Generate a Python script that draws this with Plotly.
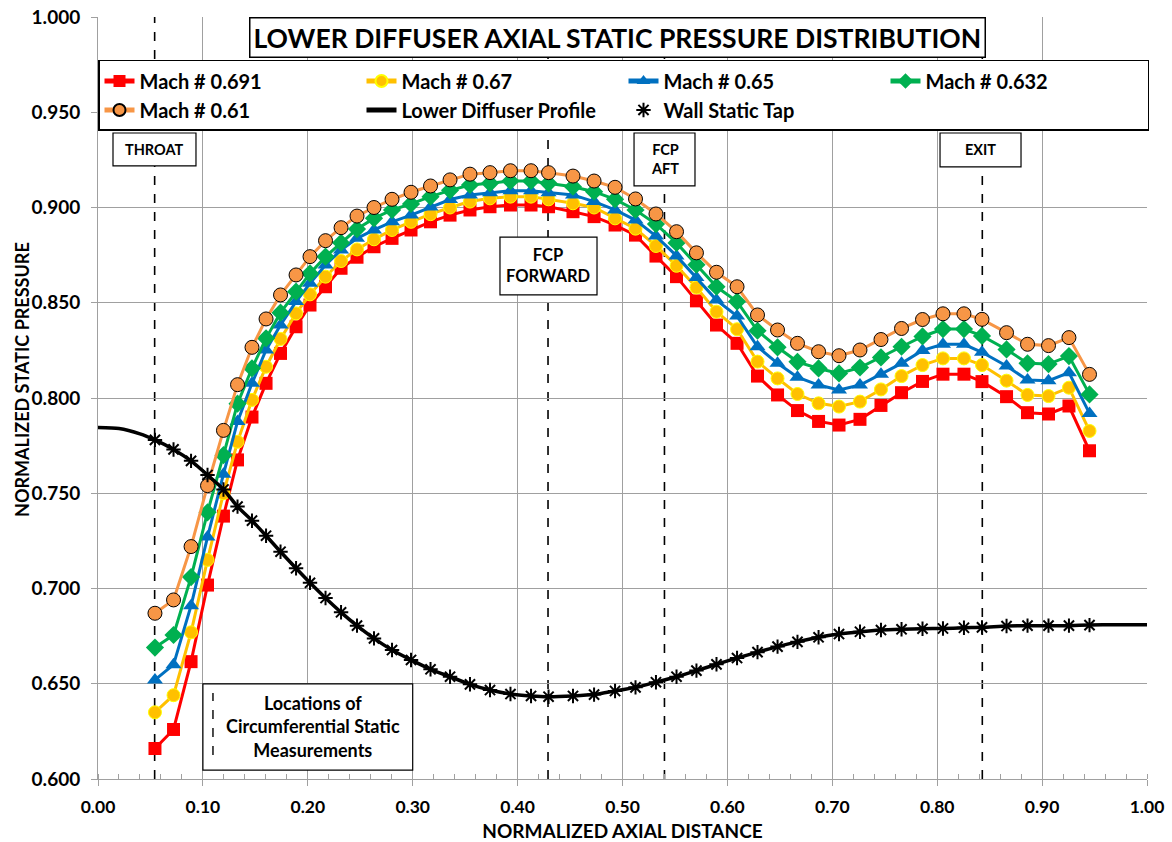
import plotly.graph_objects as go

# ---------------- data ----------------
x_pos = [0.0543, 0.0720, 0.0887, 0.1044, 0.1196, 0.1330, 0.1468, 0.1602, 0.1740, 0.1888,
         0.2021, 0.2169, 0.2317, 0.2469, 0.2631, 0.2803, 0.2984, 0.3170, 0.3356, 0.3546,
         0.3737, 0.3932, 0.4128, 0.4295, 0.4528, 0.4729, 0.4929, 0.5124, 0.5319, 0.5515,
         0.5705, 0.5896, 0.6092, 0.6287, 0.6478, 0.6668, 0.6869, 0.7064, 0.7264, 0.7464,
         0.7660, 0.7860, 0.8055, 0.8255, 0.8427, 0.8661, 0.8861, 0.9061, 0.9256, 0.9452]

mach_0691 = [0.616, 0.626, 0.6616, 0.7018, 0.738, 0.7675, 0.790, 0.8077, 0.8234, 0.8374,
             0.8488, 0.8584, 0.8681, 0.8739, 0.8794, 0.8838, 0.8882, 0.8925, 0.896, 0.8987,
             0.9004, 0.9013, 0.9013, 0.9004, 0.8978, 0.8952, 0.8908, 0.8855, 0.8745, 0.8637,
             0.851, 0.8383, 0.8287, 0.8115, 0.8016, 0.7934, 0.7877, 0.7858, 0.7888, 0.7961,
             0.8028, 0.8087, 0.8125, 0.8125, 0.8086, 0.8007, 0.7923, 0.7916, 0.7958, 0.7723]

mach_067 = [0.635, 0.644, 0.677, 0.715, 0.750, 0.777, 0.799, 0.8164, 0.831, 0.8444,
            0.8544, 0.8637, 0.8719, 0.878, 0.8833, 0.8882, 0.8925, 0.8965, 0.900, 0.9031,
            0.9048, 0.9057, 0.9057, 0.9043, 0.9022, 0.900, 0.8943, 0.8889, 0.8798, 0.8694,
            0.858, 0.8453, 0.8361, 0.8191, 0.8103, 0.8021, 0.7972, 0.7955, 0.7981, 0.8045,
            0.8115, 0.8173, 0.8208, 0.8208, 0.8173, 0.8091, 0.8016, 0.801, 0.8054, 0.7827]

mach_065 = [0.652, 0.660, 0.691, 0.727, 0.760, 0.7876, 0.8077, 0.8252, 0.8383, 0.8506,
            0.8602, 0.8698, 0.8777, 0.8838, 0.8882, 0.8925, 0.896, 0.9003, 0.9042, 0.9066,
            0.9078, 0.9088, 0.9088, 0.9078, 0.9066, 0.9031, 0.8987, 0.8934, 0.885, 0.8746,
            0.8632, 0.8514, 0.843, 0.8269, 0.8182, 0.8109, 0.8068, 0.8042, 0.8068, 0.8125,
            0.8182, 0.825, 0.8282, 0.8282, 0.824, 0.8168, 0.8094, 0.8091, 0.8133, 0.7919]

mach_0632 = [0.669, 0.6756, 0.706, 0.740, 0.770, 0.797, 0.8156, 0.8313, 0.8448, 0.8558,
             0.8654, 0.8742, 0.8815, 0.8887, 0.8943, 0.8987, 0.9019, 0.9057, 0.909, 0.9118,
             0.9127, 0.9139, 0.9139, 0.9127, 0.9109, 0.9083, 0.9043, 0.8987, 0.8913, 0.8814,
             0.870, 0.8584, 0.8506, 0.8353, 0.8266, 0.819, 0.8155, 0.8129, 0.816, 0.8213,
             0.8269, 0.8323, 0.8362, 0.8362, 0.8326, 0.8255, 0.8182, 0.8178, 0.822, 0.8019]

mach_061 = [0.687, 0.694, 0.722, 0.754, 0.783, 0.807, 0.8266, 0.8415, 0.8541, 0.8646,
            0.8742, 0.8826, 0.8894, 0.8955, 0.900, 0.9043, 0.908, 0.9113, 0.9145, 0.9175,
            0.9183, 0.9193, 0.9193, 0.9183, 0.9165, 0.9139, 0.9106, 0.9045, 0.8966, 0.8873,
            0.8762, 0.866, 0.8584, 0.8436, 0.8357, 0.8287, 0.8243, 0.8222, 0.8252, 0.8307,
            0.8365, 0.8412, 0.8442, 0.8442, 0.8413, 0.8343, 0.8282, 0.8275, 0.8317, 0.8124]

wall_tap = [0.778, 0.773, 0.767, 0.7596, 0.752, 0.743, 0.7356, 0.7277, 0.7193, 0.7106,
            0.703, 0.695, 0.6875, 0.6805, 0.6738, 0.6677, 0.6625, 0.6576, 0.6537, 0.6497,
            0.6467, 0.6446, 0.6436, 0.6432, 0.6436, 0.6443, 0.6462, 0.6481, 0.6508, 0.6537,
            0.6569, 0.6602, 0.6635, 0.6666, 0.6695, 0.672, 0.6744, 0.6761, 0.6773, 0.6782,
            0.6786, 0.6789, 0.679, 0.6794, 0.6796, 0.6803, 0.6805, 0.6805, 0.6805, 0.6808]

# profile end portions (outside the tap range)
profile_start_x = [0.0, 0.02, 0.04]
profile_start_y = [0.7845, 0.784, 0.7812]
profile_end_x = [0.97, 1.0]
profile_end_y = [0.681, 0.681]

station_x = [0.054, 0.429, 0.540, 0.843]
station_labels = ["THROAT", "FCP<br>FORWARD", "FCP<br>AFT", "EXIT"]
station_font = [14.5, 16.5, 14.5, 14.5]
# label boxes (axis units): x0, x1, y0, y1
station_boxes = [
    (0.0143, 0.0934, 0.9218, 0.9391),
    (0.3832, 0.4757, 0.8541, 0.8845),
    (0.5110, 0.5691, 0.9113, 0.9391),
    (0.8027, 0.8799, 0.9213, 0.9391),
]

series_names = ["Mach # 0.691", "Mach # 0.67", "Mach # 0.65", "Mach # 0.632", "Mach # 0.61"]
title_text = "LOWER DIFFUSER AXIAL STATIC PRESSURE DISTRIBUTION"

FONT = "Lato"

fig = go.Figure()

styles = [
    dict(color="#FF0000", symbol="square", size=13, lc="#FF0000", lw=0),
    dict(color="#FFC000", symbol="circle", size=13, lc="#FFFF00", lw=1),
    dict(color="#0070C0", symbol="triangle-up", size=14, lc="#0070C0", lw=0),
    dict(color="#00B050", symbol="diamond", size=14, lc="#00B050", lw=0),
    dict(color="#F79646", symbol="circle", size=14, lc="#000000", lw=1),
]
series_vals = [mach_0691, mach_067, mach_065, mach_0632, mach_061]

for name, vals, st in zip(series_names, series_vals, styles):
    fig.add_trace(go.Scatter(
        x=x_pos, y=vals, name=name, mode="lines+markers",
        line=dict(color=st["color"], width=3),
        marker=dict(symbol=st["symbol"], size=st["size"], color=st["color"],
                    line=dict(color=st["lc"], width=st["lw"])),
    ))

profile_x = profile_start_x + x_pos + profile_end_x
profile_y = profile_start_y + wall_tap + profile_end_y
fig.add_trace(go.Scatter(
    x=profile_x, y=profile_y, name="Lower Diffuser Profile", mode="lines",
    line=dict(color="black", width=3.5, shape="spline", smoothing=0.6),
))
fig.add_trace(go.Scatter(
    x=x_pos, y=wall_tap, name="Wall Static Tap", mode="markers",
    marker=dict(symbol="asterisk-open", size=12, color="black",
                line=dict(color="black", width=2)),
))

shapes = []
for sx in station_x:
    shapes.append(dict(type="line", xref="x", yref="paper", x0=sx, x1=sx, y0=0, y1=1,
                       line=dict(color="black", width=1.6, dash="dash"), layer="between"))
for (bx0, bx1, by0, by1) in station_boxes:
    shapes.append(dict(type="rect", xref="x", yref="y", x0=bx0, x1=bx1, y0=by0, y1=by1,
                       line=dict(color="black", width=1.2), fillcolor="white", layer="above"))
# note box for circumferential measurements
shapes.append(dict(type="rect", xref="x", yref="y", x0=0.10, x1=0.30, y0=0.6047, y1=0.6499,
                   line=dict(color="black", width=1.2), fillcolor="white", layer="above"))
shapes.append(dict(type="line", xref="x", yref="y", x0=0.1096, x1=0.1096, y0=0.6126, y1=0.6451,
                   line=dict(color="black", width=1.4, dash="dash"), layer="above"))

annotations = []
annotations.append(dict(
    text=title_text, xref="paper", yref="paper", x=0.4955, y=1.0, xanchor="center", yanchor="top",
    showarrow=False, font=dict(family=FONT, size=26.5, color="black", weight="bold"),
    bgcolor="white", bordercolor="black", borderwidth=1.5, borderpad=3))
for lab, fs, (bx0, bx1, by0, by1) in zip(station_labels, station_font, station_boxes):
    annotations.append(dict(
        text=lab, xref="x", yref="y", x=(bx0 + bx1) / 2, y=(by0 + by1) / 2,
        xanchor="center", yanchor="middle", showarrow=False,
        font=dict(family=FONT, size=fs, color="black", weight="bold")))
annotations.append(dict(
    text="Locations of<br>Circumferential Static<br>Measurements", xref="x", yref="y",
    x=0.2045, y=0.6273, xanchor="center", yanchor="middle", showarrow=False,
    font=dict(family=FONT, size=18, color="black", weight="bold")))
annotations.append(dict(
    text="NORMALIZED STATIC PRESSURE", xref="paper", yref="paper", x=-0.0725, y=0.525,
    xanchor="center", yanchor="middle", textangle=-90, showarrow=False,
    font=dict(family=FONT, size=18, color="black", weight="bold")))

fig.update_layout(
    width=1172, height=842,
    margin=dict(l=98, r=25, t=17, b=63),
    paper_bgcolor="white", plot_bgcolor="white",
    font=dict(family=FONT, color="black"),
    showlegend=True,
    legend=dict(
        orientation="h", x=0, y=0.9436, xanchor="left", yanchor="top",
        bgcolor="white", bordercolor="black", borderwidth=1.5,
        font=dict(family=FONT, size=20, color="black", weight="bold"),
        entrywidth=217, entrywidthmode="pixels", itemsizing="constant",
        tracegroupgap=0,
    ),
    shapes=shapes,
    annotations=annotations,
)

fig.update_xaxes(
    range=[0, 1], dtick=0.1, tick0=0, tickformat=".2f", automargin=False,
    showgrid=True, gridcolor="#A0A0A0", gridwidth=1,
    showline=True, linecolor="#A0A0A0", linewidth=1,
    ticks="outside", ticklen=6, tickcolor="#A0A0A0",
    minor=dict(ticks="inside", ticklen=5, dtick=0.02, tickcolor="#A0A0A0", showgrid=False),
    tickfont=dict(family=FONT, size=17.5, color="black", weight="bold"),
    ticklabelstandoff=6,
    title=dict(text="NORMALIZED AXIAL DISTANCE", standoff=8,
               font=dict(family=FONT, size=19, color="black", weight="bold")),
    zeroline=False,
)
fig.update_yaxes(
    range=[0.6, 1.0], dtick=0.05, tick0=0.6, tickformat=".3f", automargin=False,
    showgrid=True, gridcolor="#A0A0A0", gridwidth=1,
    showline=True, linecolor="#A0A0A0", linewidth=1,
    ticks="outside", ticklen=6, tickcolor="#A0A0A0",
    tickfont=dict(family=FONT, size=19, color="black", weight="bold"),
    ticklabelstandoff=7,
    zeroline=False,
)

fig.write_html("out.html")
